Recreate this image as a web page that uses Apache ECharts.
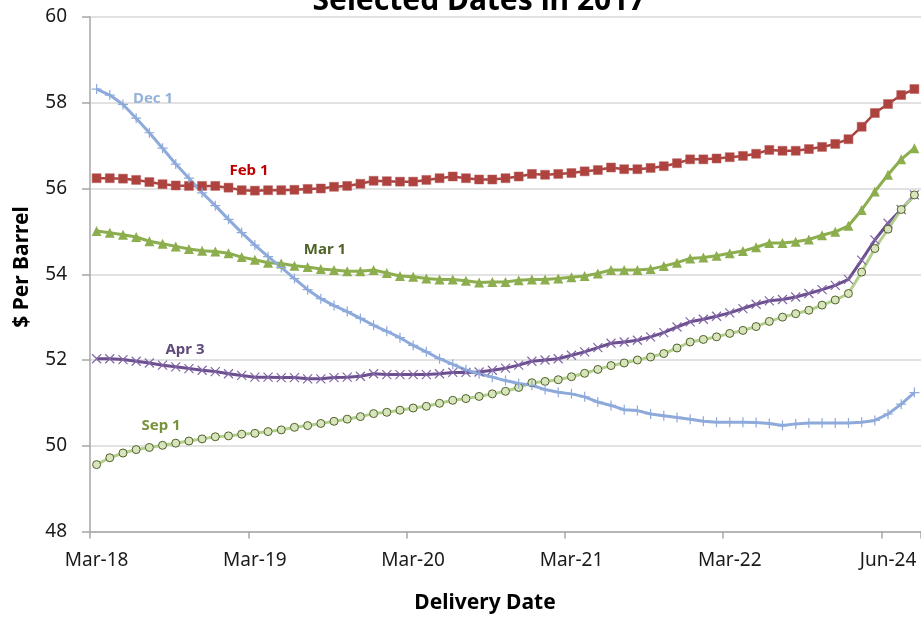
<!DOCTYPE html>
<html>
<head>
<meta charset="utf-8">
<script src="https://cdn.jsdelivr.net/npm/echarts@6/dist/echarts.min.js"></script>
<style>
  html, body { margin: 0; padding: 0; background: #ffffff; }
  #chart { width: 921px; height: 619px; }
</style>
</head>
<body>
<div id="chart"></div>
<script>
// Futures contract delivery months (monthly to Dec-22, then semi-annual)
const deliveryMonths = [
  'Mar-18','Apr-18','May-18','Jun-18','Jul-18','Aug-18','Sep-18','Oct-18','Nov-18','Dec-18',
  'Jan-19','Feb-19','Mar-19','Apr-19','May-19','Jun-19','Jul-19','Aug-19','Sep-19','Oct-19','Nov-19','Dec-19',
  'Jan-20','Feb-20','Mar-20','Apr-20','May-20','Jun-20','Jul-20','Aug-20','Sep-20','Oct-20','Nov-20','Dec-20',
  'Jan-21','Feb-21','Mar-21','Apr-21','May-21','Jun-21','Jul-21','Aug-21','Sep-21','Oct-21','Nov-21','Dec-21',
  'Jan-22','Feb-22','Mar-22','Apr-22','May-22','Jun-22','Jul-22','Aug-22','Sep-22','Oct-22','Nov-22','Dec-22',
  'Jun-23','Dec-23','Jun-24','Dec-24','Jun-25'
];

// Settlement prices, $ per barrel, for each trade date
const feb1 = [
  56.24,56.24,56.23,56.20,56.15,56.10,56.07,56.06,56.06,56.06,
  56.02,55.96,55.95,55.96,55.96,55.97,55.99,56.00,56.04,56.06,
  56.11,56.18,56.17,56.16,56.16,56.20,56.24,56.28,56.24,56.21,
  56.21,56.24,56.28,56.34,56.32,56.34,56.36,56.40,56.43,56.49,
  56.45,56.45,56.48,56.52,56.59,56.68,56.68,56.70,56.73,56.76,
  56.81,56.90,56.88,56.88,56.92,56.97,57.04,57.15,57.44,57.76,
  57.97,58.18,58.32
];
const mar1 = [
  55.01,54.97,54.92,54.87,54.77,54.71,54.65,54.59,54.55,54.53,
  54.49,54.40,54.34,54.27,54.25,54.20,54.17,54.12,54.10,54.07,
  54.07,54.10,54.03,53.96,53.94,53.90,53.88,53.88,53.85,53.81,
  53.82,53.82,53.86,53.88,53.88,53.90,53.93,53.96,54.02,54.10,
  54.10,54.10,54.12,54.19,54.27,54.37,54.39,54.43,54.49,54.54,
  54.63,54.73,54.73,54.76,54.81,54.91,54.99,55.13,55.50,55.93,
  56.32,56.68,56.94
];
const apr3 = [
  52.03,52.03,52.01,51.97,51.93,51.88,51.84,51.80,51.76,51.73,
  51.68,51.64,51.60,51.60,51.59,51.59,51.56,51.56,51.59,51.60,
  51.62,51.68,51.66,51.66,51.66,51.66,51.68,51.71,51.71,51.72,
  51.76,51.81,51.88,51.97,52.00,52.03,52.11,52.19,52.29,52.39,
  52.42,52.46,52.54,52.64,52.77,52.89,52.95,53.02,53.10,53.20,
  53.30,53.38,53.41,53.47,53.55,53.64,53.74,53.88,54.33,54.80,
  55.19,55.51,55.85
];
const sep1 = [
  49.56,49.72,49.83,49.91,49.96,50.01,50.06,50.11,50.16,50.21,
  50.23,50.27,50.29,50.33,50.37,50.43,50.47,50.52,50.57,50.62,
  50.68,50.75,50.78,50.83,50.88,50.92,50.99,51.06,51.10,51.15,
  51.21,51.27,51.36,51.47,51.50,51.54,51.61,51.69,51.78,51.87,
  51.93,52.00,52.07,52.15,52.28,52.42,52.48,52.54,52.62,52.69,
  52.78,52.90,53.00,53.08,53.16,53.28,53.40,53.55,54.05,54.60,
  55.05,55.51,55.85
];
const dec1 = [
  58.32,58.18,57.96,57.64,57.30,56.94,56.57,56.24,55.90,55.60,
  55.28,54.97,54.68,54.41,54.16,53.90,53.64,53.43,53.27,53.13,
  52.97,52.81,52.67,52.52,52.34,52.19,52.03,51.90,51.77,51.68,
  51.60,51.52,51.45,51.41,51.31,51.25,51.21,51.14,51.02,50.94,
  50.84,50.82,50.74,50.70,50.66,50.62,50.57,50.55,50.55,50.55,
  50.54,50.52,50.47,50.51,50.53,50.53,50.53,50.53,50.55,50.59,
  50.74,50.97,51.24
];

const FONT = '"Noto Sans", "Open Sans", sans-serif';
const plusPath = 'path://M0,5L10,5M5,0L5,10';
const crossPath = 'path://M0,0L10,10M10,0L0,10';

const chart = echarts.init(document.getElementById('chart'), null, { renderer: 'canvas' });

function labelText(text, x, y, color) {
  return {
    type: 'text', x: x, y: y, z: 100,
    style: { text: text, fill: color, font: 'bold 15px ' + FONT, align: 'center', verticalAlign: 'middle' }
  };
}

const common = { type: 'line', showSymbol: true, showAllSymbol: true, smooth: false };

chart.setOption({
  animation: false,
  backgroundColor: '#ffffff',
  grid: { left: 90, top: 17, width: 831.6, height: 514.5, containLabel: false },
  xAxis: {
    type: 'category',
    data: deliveryMonths,
    boundaryGap: true,
    axisLine: { show: true, lineStyle: { color: '#a6a6a6', width: 1.5 } },
    axisTick: { show: true, interval: 11, length: 7, lineStyle: { color: '#a6a6a6', width: 1.5 } },
    axisLabel: { interval: 11, margin: 20, color: '#1a1a1a', fontSize: 19, fontFamily: FONT },
    splitLine: { show: false }
  },
  yAxis: {
    type: 'value',
    min: 48, max: 60, interval: 2,
    axisLine: { show: true, lineStyle: { color: '#a6a6a6', width: 1.5 } },
    axisTick: { show: true, inside: false, length: 8, lineStyle: { color: '#a6a6a6', width: 1.5 } },
    axisLabel: { margin: 23, color: '#1a1a1a', fontSize: 19, fontFamily: FONT },
    splitLine: { show: true, lineStyle: { color: '#d9d9d9', width: 1.5 } }
  },
  series: [
    Object.assign({}, common, {
      name: 'Feb 1', data: feb1,
      symbol: 'rect', symbolSize: 9,
      lineStyle: { color: '#aa4340', width: 2.5 },
      itemStyle: { color: '#ad423f', borderColor: '#b9605d', borderWidth: 0.5 }
    }),
    Object.assign({}, common, {
      name: 'Mar 1', data: mar1,
      symbol: 'triangle', symbolSize: 10,
      lineStyle: { color: '#8cae4e', width: 3 },
      itemStyle: { color: '#8cae4e', borderWidth: 0 }
    }),
    Object.assign({}, common, {
      name: 'Apr 3', data: apr3,
      symbol: crossPath, symbolSize: 9,
      lineStyle: { color: '#6c4f8f', width: 3 },
      itemStyle: { color: 'none', borderColor: '#8467a8', borderWidth: 1.2 }
    }),
    Object.assign({}, common, {
      name: 'Sep 1', data: sep1,
      symbol: 'circle', symbolSize: 8,
      lineStyle: { color: '#b2cf8d', width: 3 },
      itemStyle: { color: '#d8e4bc', borderColor: '#4f6228', borderWidth: 1 }
    }),
    Object.assign({}, common, {
      name: 'Dec 1', data: dec1,
      symbol: plusPath, symbolSize: 10,
      lineStyle: { color: '#8eaadb', width: 3 },
      itemStyle: { color: 'none', borderColor: '#8eaadb', borderWidth: 1.2 }
    })
  ],
  graphic: [
    {
      type: 'text', x: 479, y: 1, z: 100,
      style: { text: 'Selected Dates in 2017', fill: '#000000', font: 'bold 30px ' + FONT, align: 'center', verticalAlign: 'middle' }
    },
    {
      type: 'text', x: 22, y: 267, rotation: Math.PI / 2, z: 100,
      style: { text: '$ Per Barrel', fill: '#000000', font: 'bold 21px ' + FONT, align: 'center', verticalAlign: 'middle' }
    },
    {
      type: 'text', x: 485, y: 603, z: 100,
      style: { text: 'Delivery Date', fill: '#000000', font: 'bold 21px ' + FONT, align: 'center', verticalAlign: 'middle' }
    },
    labelText('Dec 1', 153, 98.5, '#95b3d7'),
    labelText('Feb 1', 249, 171, '#c00000'),
    labelText('Mar 1', 325, 249.5, '#4f6228'),
    labelText('Apr 3', 185, 350, '#604a7b'),
    labelText('Sep 1', 161, 425.5, '#77933c')
  ]
});
</script>
</body>
</html>
